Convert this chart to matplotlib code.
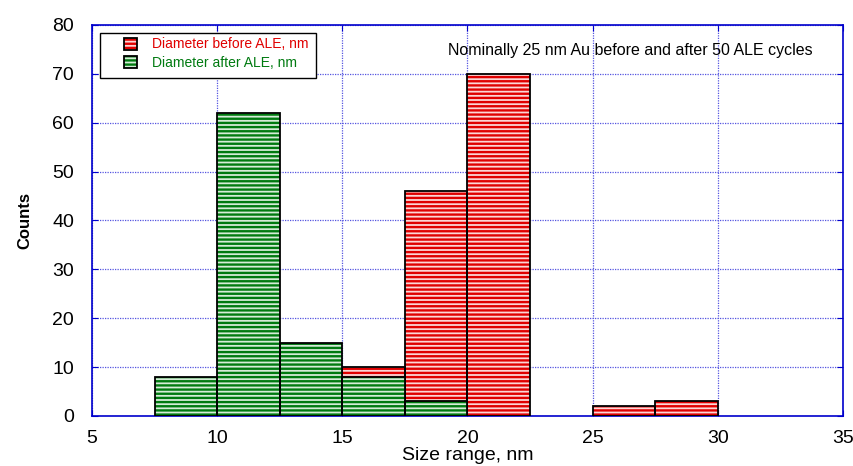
import matplotlib.pyplot as plt
import numpy as np

plt.rcParams["font.family"] = ["Liberation Sans", "DejaVu Sans"]
plt.rcParams["hatch.linewidth"] = 1.7

# bin left edges (nm), width 2.5
before_edges = [15.0, 17.5, 20.0, 25.0, 27.5]
before_counts = [10, 46, 70, 2, 3]
after_edges = [7.5, 10.0, 12.5, 15.0, 17.5]
after_counts = [8, 62, 15, 8, 3]
bin_width = 2.5

x_ticks = [5, 10, 15, 20, 25, 30, 35]
y_ticks = [0, 10, 20, 30, 40, 50, 60, 70, 80]

RED = "#e00000"
GREEN = "#007a10"

fig = plt.figure(figsize=(8.54, 4.66), dpi=100)
ax = fig.add_axes([0.1077, 0.1073, 0.8793, 0.8391])


def hist_bars(edges, counts, color, face, z):
    # hatch layer, then a black outline on top
    ax.bar(edges, counts, width=bin_width, align="edge", facecolor=face,
           edgecolor=color, hatch="----", linewidth=0, zorder=z)
    ax.bar(edges, counts, width=bin_width, align="edge", fill=False,
           edgecolor="black", linewidth=1.3, zorder=z + 0.1)
    # proxy handles for legend (hatch + black outline)
    fill = plt.Rectangle((0, 0), 1, 1, facecolor=face, edgecolor=color,
                         hatch="----", linewidth=0)
    edge = plt.Rectangle((0, 0), 1, 1, fill=False, edgecolor="black",
                         linewidth=1.3)
    return (fill, edge)


h_before = hist_bars(before_edges, before_counts, RED, "#fbd6d6", 3)
h_after = hist_bars(after_edges, after_counts, GREEN, "#d6ecd8", 4)

ax.set_xlim(5, 35)
ax.set_ylim(0, 80)
ax.set_xticks(x_ticks)
ax.set_yticks(y_ticks)
ax.tick_params(direction="in", colors="#0000cc", labelcolor="black",
               labelsize=14, length=4, top=True, right=True)
ax.tick_params(axis="y", pad=13)
ax.tick_params(axis="x", pad=10)
ax.grid(True, color="#5555e0", linestyle=(0, (1, 1)), linewidth=0.9)
ax.set_axisbelow(True)
for sp in ax.spines.values():
    sp.set_color("#0000cc")
    sp.set_linewidth(1.2)

ax.set_xlabel("Size range, nm", fontsize=14, labelpad=0)
ax.set_ylabel("Counts", fontsize=12, fontweight="bold", labelpad=14)

# legend frame drawn as a plain box, legend itself without frame
frame = plt.Rectangle((0.0107, 0.8645), 0.2876, 0.115, transform=ax.transAxes,
                      facecolor="white", edgecolor="black", linewidth=1.0,
                      zorder=9)
ax.add_patch(frame)
leg = ax.legend([h_before, h_after],
                ["Diameter before ALE, nm", "Diameter after ALE, nm"],
                loc="upper left", bbox_to_anchor=(0.042, 0.968),
                fontsize=10, frameon=False, handlelength=0.95,
                handleheight=0.95, handletextpad=1.1, borderpad=0,
                labelspacing=0.3, borderaxespad=0)
leg.set_zorder(10)
for txt, c in zip(leg.get_texts(), [RED, GREEN]):
    txt.set_color(c)

ax.text(0.474, 0.936, "Nominally 25 nm Au before and after 50 ALE cycles",
        transform=ax.transAxes, fontsize=11.5, ha="left", va="center")

fig.savefig("out.png", dpi=100)
